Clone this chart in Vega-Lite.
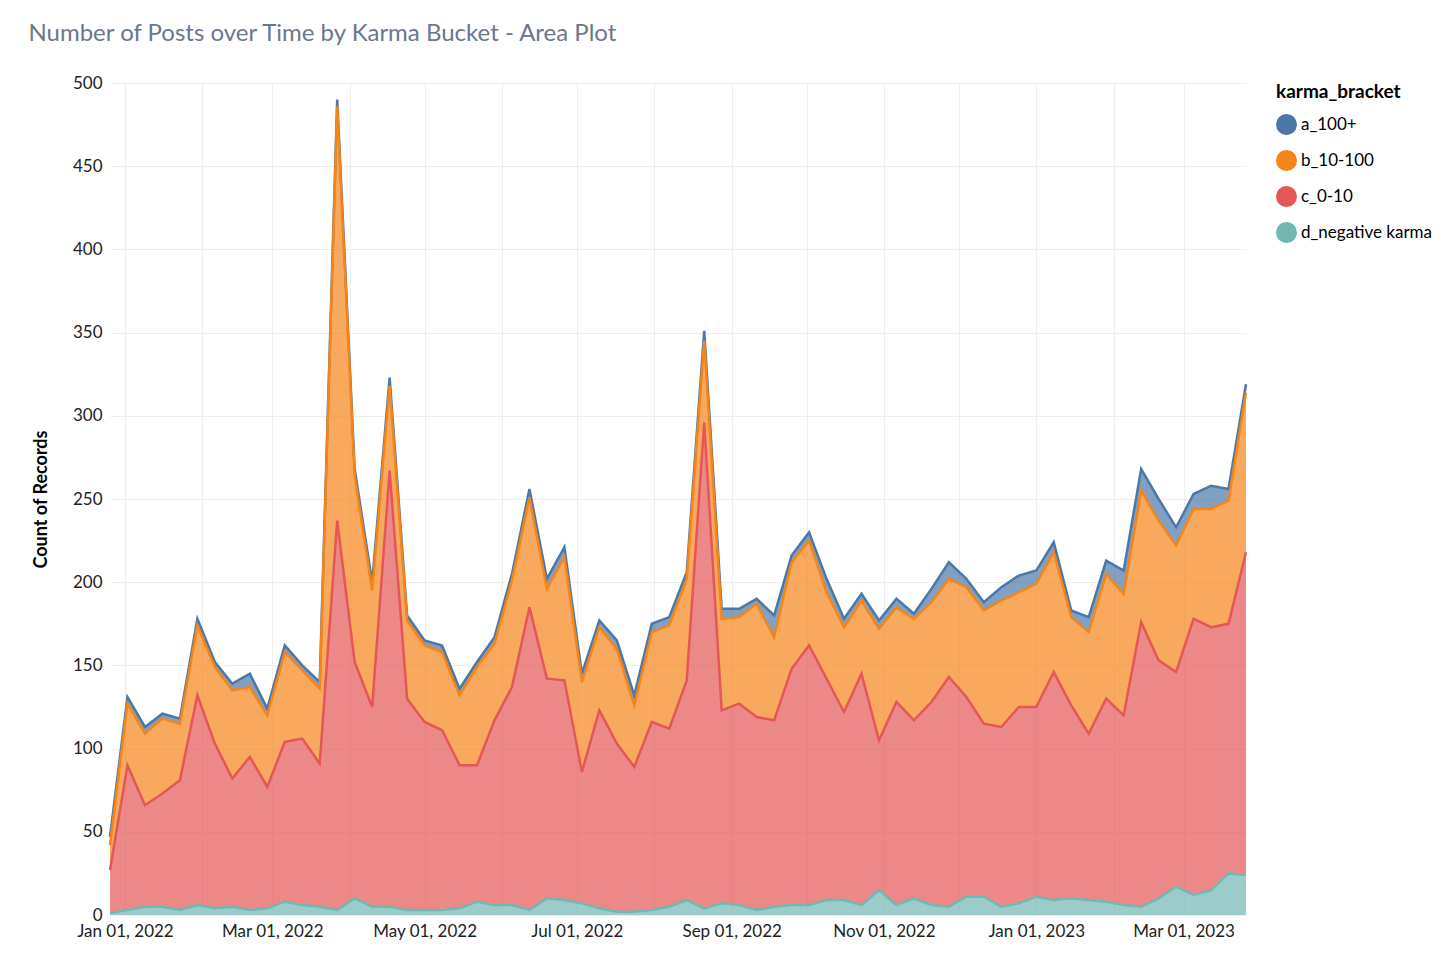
{
"$schema":"https://vega.github.io/schema/vega-lite/v6.json",
"width":1136,"height":832,
"padding":{"left":28,"top":22,"right":5,"bottom":5},
"config":{"font":"Lato","view":{"stroke":null},"axis":{"labelFont":"Lato","titleFont":"Lato","labelFontSize":17,"titleFontSize":18,"labelColor":"#222","gridColor":"#eeeeee","domain":false,"ticks":false,"labelPadding":8}},
"title":{"text":"Number of Posts over Time by Karma Bucket - Area Plot","anchor":"start","frame":"bounds","fontSize":24,"fontWeight":"normal","color":"#6b778c","offset":28,"dx":-4},
"data":{"values":[
{"date":"2021-12-26","a_100+":5,"b_10-100":15,"c_0-10":26,"d_negative karma":1},
{"date":"2022-01-02","a_100+":4,"b_10-100":37,"c_0-10":87,"d_negative karma":3},
{"date":"2022-01-09","a_100+":4,"b_10-100":43,"c_0-10":61,"d_negative karma":5},
{"date":"2022-01-16","a_100+":3,"b_10-100":45,"c_0-10":68,"d_negative karma":5},
{"date":"2022-01-23","a_100+":3,"b_10-100":34,"c_0-10":78,"d_negative karma":3},
{"date":"2022-01-30","a_100+":4,"b_10-100":42,"c_0-10":126,"d_negative karma":6},
{"date":"2022-02-06","a_100+":3,"b_10-100":46,"c_0-10":99,"d_negative karma":4},
{"date":"2022-02-13","a_100+":4,"b_10-100":53,"c_0-10":77,"d_negative karma":5},
{"date":"2022-02-20","a_100+":8,"b_10-100":42,"c_0-10":92,"d_negative karma":3},
{"date":"2022-02-27","a_100+":4,"b_10-100":43,"c_0-10":73,"d_negative karma":4},
{"date":"2022-03-06","a_100+":4,"b_10-100":54,"c_0-10":96,"d_negative karma":8},
{"date":"2022-03-13","a_100+":3,"b_10-100":41,"c_0-10":100,"d_negative karma":6},
{"date":"2022-03-20","a_100+":4,"b_10-100":45,"c_0-10":86,"d_negative karma":5},
{"date":"2022-03-27","a_100+":4,"b_10-100":249,"c_0-10":234,"d_negative karma":3},
{"date":"2022-04-03","a_100+":4,"b_10-100":112,"c_0-10":142,"d_negative karma":10},
{"date":"2022-04-10","a_100+":5,"b_10-100":70,"c_0-10":120,"d_negative karma":5},
{"date":"2022-04-17","a_100+":5,"b_10-100":51,"c_0-10":262,"d_negative karma":5},
{"date":"2022-04-24","a_100+":3,"b_10-100":47,"c_0-10":127,"d_negative karma":3},
{"date":"2022-05-01","a_100+":3,"b_10-100":46,"c_0-10":113,"d_negative karma":3},
{"date":"2022-05-08","a_100+":4,"b_10-100":47,"c_0-10":108,"d_negative karma":3},
{"date":"2022-05-15","a_100+":4,"b_10-100":42,"c_0-10":86,"d_negative karma":4},
{"date":"2022-05-22","a_100+":3,"b_10-100":59,"c_0-10":82,"d_negative karma":8},
{"date":"2022-05-29","a_100+":4,"b_10-100":46,"c_0-10":111,"d_negative karma":6},
{"date":"2022-06-05","a_100+":4,"b_10-100":64,"c_0-10":131,"d_negative karma":6},
{"date":"2022-06-12","a_100+":5,"b_10-100":66,"c_0-10":182,"d_negative karma":3},
{"date":"2022-06-19","a_100+":6,"b_10-100":54,"c_0-10":132,"d_negative karma":10},
{"date":"2022-06-26","a_100+":6,"b_10-100":74,"c_0-10":132,"d_negative karma":9},
{"date":"2022-07-03","a_100+":5,"b_10-100":54,"c_0-10":79,"d_negative karma":7},
{"date":"2022-07-10","a_100+":4,"b_10-100":50,"c_0-10":119,"d_negative karma":4},
{"date":"2022-07-17","a_100+":5,"b_10-100":57,"c_0-10":101,"d_negative karma":2},
{"date":"2022-07-24","a_100+":6,"b_10-100":37,"c_0-10":87,"d_negative karma":2},
{"date":"2022-07-31","a_100+":5,"b_10-100":54,"c_0-10":113,"d_negative karma":3},
{"date":"2022-08-07","a_100+":5,"b_10-100":62,"c_0-10":107,"d_negative karma":5},
{"date":"2022-08-14","a_100+":4,"b_10-100":61,"c_0-10":132,"d_negative karma":9},
{"date":"2022-08-21","a_100+":6,"b_10-100":49,"c_0-10":292,"d_negative karma":4},
{"date":"2022-08-28","a_100+":6,"b_10-100":55,"c_0-10":116,"d_negative karma":7},
{"date":"2022-09-04","a_100+":5,"b_10-100":52,"c_0-10":121,"d_negative karma":6},
{"date":"2022-09-11","a_100+":3,"b_10-100":68,"c_0-10":116,"d_negative karma":3},
{"date":"2022-09-18","a_100+":13,"b_10-100":50,"c_0-10":112,"d_negative karma":5},
{"date":"2022-09-25","a_100+":4,"b_10-100":64,"c_0-10":142,"d_negative karma":6},
{"date":"2022-10-02","a_100+":5,"b_10-100":63,"c_0-10":156,"d_negative karma":6},
{"date":"2022-10-09","a_100+":8,"b_10-100":52,"c_0-10":133,"d_negative karma":9},
{"date":"2022-10-16","a_100+":5,"b_10-100":51,"c_0-10":113,"d_negative karma":9},
{"date":"2022-10-23","a_100+":4,"b_10-100":44,"c_0-10":139,"d_negative karma":6},
{"date":"2022-10-30","a_100+":5,"b_10-100":67,"c_0-10":90,"d_negative karma":15},
{"date":"2022-11-06","a_100+":5,"b_10-100":57,"c_0-10":122,"d_negative karma":6},
{"date":"2022-11-13","a_100+":3,"b_10-100":61,"c_0-10":107,"d_negative karma":10},
{"date":"2022-11-20","a_100+":8,"b_10-100":60,"c_0-10":122,"d_negative karma":6},
{"date":"2022-11-27","a_100+":10,"b_10-100":59,"c_0-10":138,"d_negative karma":5},
{"date":"2022-12-04","a_100+":5,"b_10-100":66,"c_0-10":120,"d_negative karma":11},
{"date":"2022-12-11","a_100+":5,"b_10-100":68,"c_0-10":104,"d_negative karma":11},
{"date":"2022-12-18","a_100+":8,"b_10-100":76,"c_0-10":108,"d_negative karma":5},
{"date":"2022-12-25","a_100+":10,"b_10-100":69,"c_0-10":118,"d_negative karma":7},
{"date":"2023-01-01","a_100+":8,"b_10-100":74,"c_0-10":114,"d_negative karma":11},
{"date":"2023-01-08","a_100+":6,"b_10-100":72,"c_0-10":137,"d_negative karma":9},
{"date":"2023-01-15","a_100+":4,"b_10-100":53,"c_0-10":116,"d_negative karma":10},
{"date":"2023-01-22","a_100+":9,"b_10-100":61,"c_0-10":100,"d_negative karma":9},
{"date":"2023-01-29","a_100+":8,"b_10-100":75,"c_0-10":122,"d_negative karma":8},
{"date":"2023-02-05","a_100+":14,"b_10-100":73,"c_0-10":114,"d_negative karma":6},
{"date":"2023-02-12","a_100+":13,"b_10-100":79,"c_0-10":171,"d_negative karma":5},
{"date":"2023-02-19","a_100+":13,"b_10-100":84,"c_0-10":143,"d_negative karma":10},
{"date":"2023-02-26","a_100+":11,"b_10-100":76,"c_0-10":129,"d_negative karma":17},
{"date":"2023-03-05","a_100+":9,"b_10-100":66,"c_0-10":166,"d_negative karma":12},
{"date":"2023-03-12","a_100+":14,"b_10-100":71,"c_0-10":158,"d_negative karma":15},
{"date":"2023-03-19","a_100+":7,"b_10-100":74,"c_0-10":150,"d_negative karma":25},
{"date":"2023-03-26","a_100+":5,"b_10-100":96,"c_0-10":194,"d_negative karma":24}
]},
"transform":[{"fold":["a_100+","b_10-100","c_0-10","d_negative karma"],"as":["karma_bracket","count"]}],
"mark":{"type":"area","opacity":0.7,"line":{"strokeWidth":2.5}},
"encoding":{
"x":{"field":"date","type":"temporal","title":null,"axis":{"grid":true,"tickCount":{"interval":"month","step":1},"labelExpr":"month(datum.value)%2==0 ? timeFormat(datum.value,'%b %d, %Y') : ''","labelOverlap":false}},
"y":{"field":"count","type":"quantitative","stack":"zero","title":"Count of Records","scale":{"domain":[0,500]},"axis":{"tickCount":10,"titlePadding":22}},
"color":{"field":"karma_bracket","type":"nominal","scale":{"domain":["a_100+","b_10-100","c_0-10","d_negative karma"],"range":["#4c78a8","#f58518","#e45756","#72b7b2"]},"legend":{"symbolType":"circle","symbolSize":380,"symbolOpacity":1,"labelFontSize":17,"titleFontSize":19,"titleFont":"Lato","labelFont":"Lato","titlePadding":12,"rowPadding":9,"offset":25}},
"order":{"field":"karma_bracket","sort":"descending"}
}
}
